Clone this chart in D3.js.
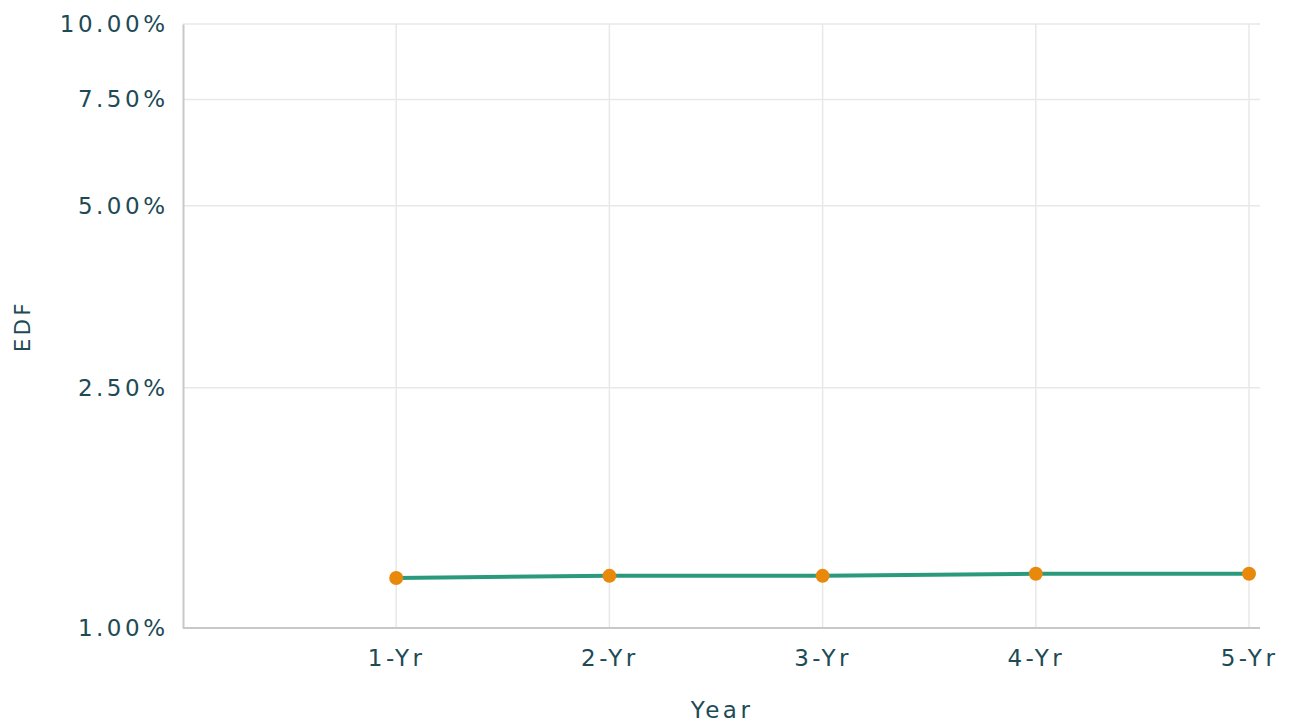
<!DOCTYPE html>
<html>
<head>
<meta charset="utf-8">
<script src="https://cdn.jsdelivr.net/npm/d3@7"></script>
<style>
  body { margin: 0; background: #fff; }
  text { font-family: "DejaVu Sans", Verdana, sans-serif; fill: #1d4a55; }
</style>
</head>
<body>
<div class="chart"></div>
<script>
const svgWidth = 1289
const svgHeight = 724

// data
const years = ["1-Yr", "2-Yr", "3-Yr", "4-Yr", "5-Yr"]
const edf = [1.21, 1.22, 1.22, 1.23, 1.23]
const yTicks = [1, 2.5, 5, 7.5, 10]

let margin = { top: 24, right: 40, bottom: 96, left: 183 }
let plotRight = 1260
let fontSize = 23
let spacing = 3.5

let svg = d3.select(".chart")
  .append("svg")
  .attr("width", svgWidth)
  .attr("height", svgHeight)

// x: one empty slot before 1-Yr
let x = d3.scaleLinear()
  .domain([0, years.length])
  .range([margin.left, 1249])

let y = d3.scaleLog()
  .domain([1, 10])
  .range([svgHeight - margin.bottom, margin.top])

// horizontal grid
svg.append("g")
  .selectAll("line")
  .data(yTicks)
  .enter()
  .append("line")
  .attr("x1", margin.left)
  .attr("x2", plotRight)
  .attr("y1", d => y(d))
  .attr("y2", d => y(d))
  .attr("stroke", "#e8e8e8")
  .attr("stroke-width", 1.5)

// vertical grid
svg.append("g")
  .selectAll("line")
  .data(years)
  .enter()
  .append("line")
  .attr("x1", (d, i) => x(i + 1))
  .attr("x2", (d, i) => x(i + 1))
  .attr("y1", margin.top)
  .attr("y2", y(1))
  .attr("stroke", "#e8e8e8")
  .attr("stroke-width", 1.5)

// axes
let leftAxis = d3.axisLeft(y)
  .tickValues(yTicks)
  .tickFormat(d => d.toFixed(2) + "%")
  .tickSize(0)
  .tickPadding(18 - spacing)

let gy = svg.append("g")
  .attr("transform", `translate(${margin.left},0)`)
  .call(leftAxis)
gy.select(".domain").attr("stroke", "#c8c8c8").attr("stroke-width", 2)
gy.selectAll("text").attr("font-size", fontSize).attr("letter-spacing", spacing).attr("fill", "#1d4a55")

let bottomAxis = d3.axisBottom(x)
  .tickValues(d3.range(1, years.length + 1))
  .tickFormat(d => years[d - 1])
  .tickSize(0)
  .tickPadding(22)

let gx = svg.append("g")
  .attr("transform", `translate(0,${y(1)})`)
  .call(bottomAxis)
gx.select(".domain").attr("d", `M${margin.left},0H${plotRight}`).attr("stroke", "#c8c8c8").attr("stroke-width", 2)
gx.selectAll("text").attr("font-size", fontSize).attr("letter-spacing", spacing).attr("fill", "#1d4a55")

// axis titles
svg.append("text")
  .attr("transform", `translate(30, ${(margin.top + y(1)) / 2}) rotate(-90)`)
  .attr("text-anchor", "middle")
  .attr("font-size", 21)
  .attr("letter-spacing", spacing)
  .text("EDF")

svg.append("text")
  .attr("x", 722)
  .attr("y", 718)
  .attr("text-anchor", "middle")
  .attr("font-size", fontSize)
  .attr("letter-spacing", spacing)
  .text("Year")

// line
let line = d3.line()
  .x((d, i) => x(i + 1))
  .y(d => y(d))

svg.append("path")
  .datum(edf)
  .attr("d", line)
  .attr("fill", "none")
  .attr("stroke", "#2b9a7c")
  .attr("stroke-width", 4)

svg.append("g")
  .selectAll("circle")
  .data(edf)
  .enter()
  .append("circle")
  .attr("cx", (d, i) => x(i + 1))
  .attr("cy", d => y(d))
  .attr("r", 7)
  .attr("fill", "#e8890c")
</script>
</body>
</html>
